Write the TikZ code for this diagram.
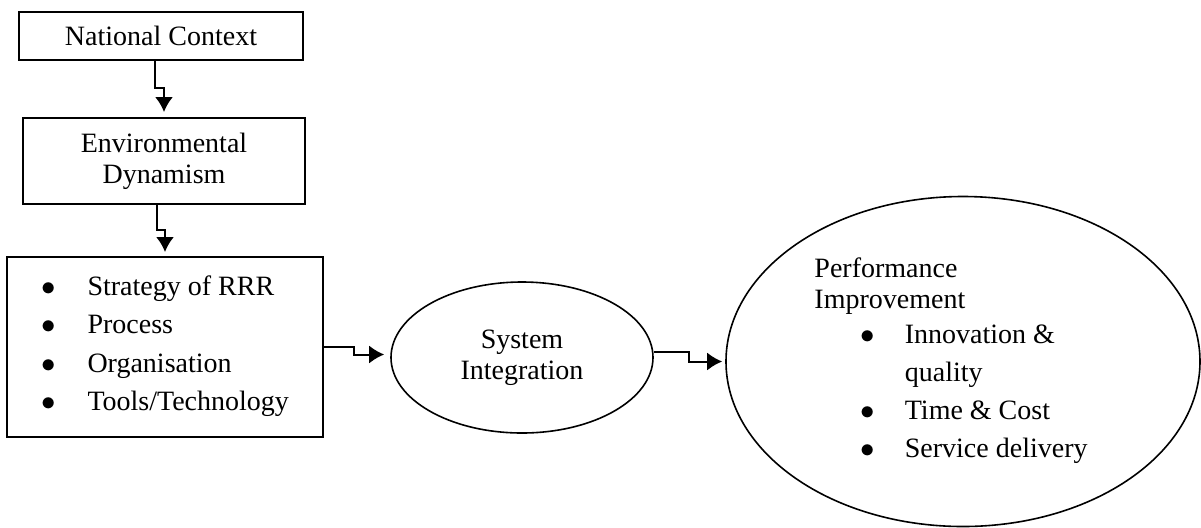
\documentclass[tikz,border=0pt]{standalone}
\usepackage{fontspec}
\setmainfont{Liberation Serif}
\usepackage{tikz}
\usetikzlibrary{%
  arrows.meta,%
  calc,%
  shapes.geometric%
}
\tikzset{>={Latex[length=7.5pt,width=9pt]}}
\tikzset{every node/.style={font=\fontsize{14}{15.5}\selectfont},
  block/.style={draw,line width=1pt,rectangle,align=center,inner sep=0pt},
  oval/.style={draw,line width=0.8pt,ellipse,align=center,inner sep=0pt},
  link/.style={->,line width=1pt}}
\newcommand{\bul}{$\bullet$}

\begin{document}
\begin{tikzpicture}[x=0.5pt,y=-0.5pt]
    \useasboundingbox (0,0) rectangle (1201,527);
    \node[block,minimum width=142pt,minimum height=24pt] (nat) at (161,36) {National Context};
    \node[block,minimum width=141pt,minimum height=43pt] (env) at (164,161) {Environmental\\Dynamism};
    \node[block,minimum width=158pt,minimum height=90pt] (list) at (165,347)
      {\begin{tabular}{@{}l@{\hspace{16pt}}l@{}}
        \bul & Strategy of RRR\\[3.75pt]
        \bul & Process\\[3.75pt]
        \bul & Organisation\\[3.75pt]
        \bul & Tools/Technology
      \end{tabular}};
    \node[oval,minimum width=131pt,minimum height=75.5pt] (sys) at (522,357.5) {System\\Integration};
    \node[oval,minimum width=237pt,minimum height=165pt] (perf) at (963,361.5)
      {\begin{tabular}{@{}p{23pt}@{}l@{\hspace{15pt}}l@{}}
        \multicolumn{3}{@{}l@{}}{Performance}\\
        \multicolumn{3}{@{}l@{}}{Improvement}\\[2pt]
        & \bul & Innovation \&\\[3.5pt]
        & & quality\\[3.5pt]
        & \bul & Time \& Cost\\[3.5pt]
        & \bul & Service delivery
      \end{tabular}\hspace{12pt}};
    % elbow connectors
    \draw[link] ([xshift=-3pt]nat.south) -- ++(0,27) -| ([yshift=2.5pt]env.north);
    \draw[link] ([xshift=-3.5pt]env.south) -- ++(0,25) -| ([yshift=2pt]list.north);
    \draw[link] (list.east) -- ++(30,0) |- ([xshift=-3pt,yshift=1.5pt]sys.west);
    \draw[link] ([yshift=3pt]sys.east) -- ++(35,0) |- ([xshift=-1.5pt]perf.west);
\end{tikzpicture}
\end{document}
